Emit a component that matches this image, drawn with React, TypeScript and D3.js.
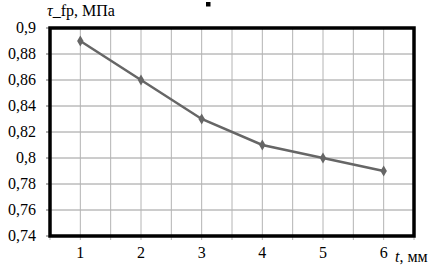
import * as d3 from "d3";
import React, { useRef, useEffect } from "react";

const categories = ["1", "2", "3", "4", "5", "6"];
const values = [0.89, 0.86, 0.83, 0.81, 0.8, 0.79];
const yTicks = [0.74, 0.76, 0.78, 0.8, 0.82, 0.84, 0.86, 0.88, 0.9];

const width = 438;
const height = 272;
const margin = { top: 28, right: 24, bottom: 36, left: 50 };

export default function App() {
  const ref = useRef<SVGSVGElement>(null);

  useEffect(() => {
    const svg = d3.select(ref.current);
    svg.selectAll("*").remove();

    const x = d3
      .scaleBand()
      .domain(categories)
      .range([margin.left, width - margin.right]);
    const y = d3
      .scaleLinear()
      .domain([0.74, 0.9])
      .range([height - margin.bottom, margin.top]);

    const font = "'Times New Roman', 'Liberation Serif', 'DejaVu Serif', serif";

    // horizontal grid
    svg
      .append("g")
      .selectAll("line")
      .data(yTicks)
      .enter()
      .append("line")
      .attr("x1", margin.left)
      .attr("x2", width - margin.right)
      .attr("y1", d => y(d))
      .attr("y2", d => y(d))
      .attr("stroke", "#9a9a9a")
      .attr("stroke-width", 1);

    // vertical grid: at category centres and band edges
    const xs: number[] = [];
    categories.forEach(c => {
      xs.push(x(c)!);
      xs.push(x(c)! + x.bandwidth() / 2);
    });
    xs.push(width - margin.right);
    svg
      .append("g")
      .selectAll("line")
      .data(xs)
      .enter()
      .append("line")
      .attr("x1", d => d)
      .attr("x2", d => d)
      .attr("y1", margin.top)
      .attr("y2", height - margin.bottom + 4)
      .attr("stroke", "#b4b4b4")
      .attr("stroke-width", 1);

    // y ticks
    svg
      .append("g")
      .selectAll("line")
      .data(yTicks)
      .enter()
      .append("line")
      .attr("x1", margin.left - 4)
      .attr("x2", margin.left)
      .attr("y1", d => y(d))
      .attr("y2", d => y(d))
      .attr("stroke", "#666");

    // frame
    svg
      .append("rect")
      .attr("x", margin.left)
      .attr("y", margin.top)
      .attr("width", width - margin.left - margin.right)
      .attr("height", height - margin.top - margin.bottom)
      .attr("fill", "none")
      .attr("stroke", "#000")
      .attr("stroke-width", 3.5);

    // line
    const line = d3
      .line<number>()
      .x((d, i) => x(categories[i])! + x.bandwidth() / 2)
      .y(d => y(d));
    svg
      .append("path")
      .datum(values)
      .attr("d", line)
      .attr("fill", "none")
      .attr("stroke", "#666")
      .attr("stroke-width", 2.5);

    // markers
    svg
      .append("g")
      .selectAll("path")
      .data(values)
      .enter()
      .append("path")
      .attr("d", d3.symbol().type(d3.symbolDiamond).size(36))
      .attr(
        "transform",
        (d, i) => `translate(${x(categories[i])! + x.bandwidth() / 2},${y(d)})`
      )
      .attr("fill", "#666");

    // y labels
    svg
      .append("g")
      .selectAll("text")
      .data(yTicks)
      .enter()
      .append("text")
      .attr("x", margin.left - 14)
      .attr("y", d => y(d) + 5)
      .attr("text-anchor", "end")
      .attr("font-family", font)
      .attr("font-size", 16)
      .text(d => String(+d.toFixed(2)).replace(".", ","));

    // x labels
    svg
      .append("g")
      .selectAll("text")
      .data(categories)
      .enter()
      .append("text")
      .attr("x", d => x(d)! + x.bandwidth() / 2)
      .attr("y", height - margin.bottom + 22)
      .attr("text-anchor", "middle")
      .attr("font-family", font)
      .attr("font-size", 16)
      .text(d => d);

    // axis titles
    const yt = svg
      .append("text")
      .attr("x", 47)
      .attr("y", 16)
      .attr("font-family", font)
      .attr("font-size", 16);
    yt.append("tspan").attr("font-style", "italic").text("τ");
    yt.append("tspan").text("_fp, МПа");

    const xt = svg
      .append("text")
      .attr("x", 395)
      .attr("y", 262)
      .attr("font-family", font)
      .attr("font-size", 16);
    xt.append("tspan").attr("font-style", "italic").text("t");
    xt.append("tspan").text(", мм");

    // small legend marker
    svg
      .append("rect")
      .attr("x", 206)
      .attr("y", 2)
      .attr("width", 4.5)
      .attr("height", 4.5)
      .attr("fill", "#000");
  }, []);

  return (
    <svg
      ref={ref}
      width={width}
      height={height}
      style={{ position: "absolute", left: 0, top: 0, background: "#fff" }}
    ></svg>
  );
}
